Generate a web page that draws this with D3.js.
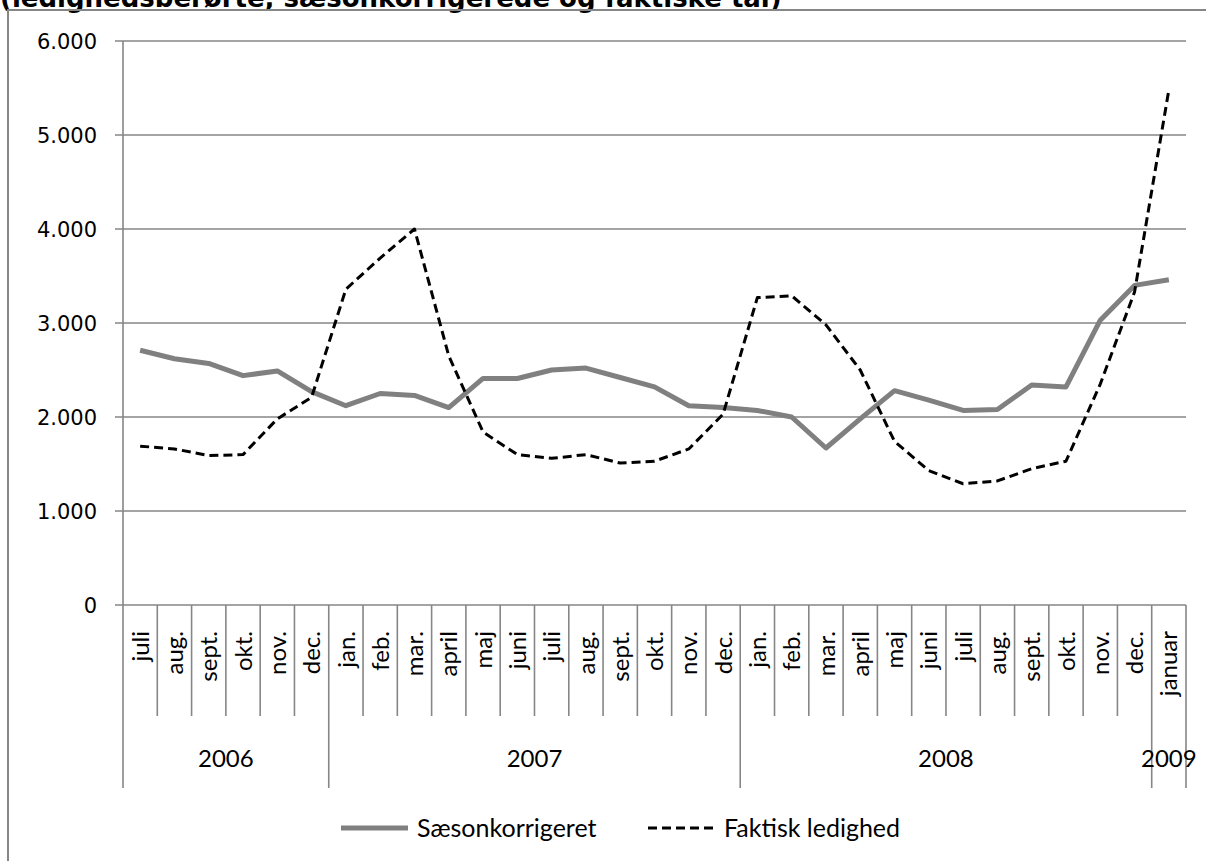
<!DOCTYPE html>
<html>
<head>
<meta charset="utf-8">
<script src="https://cdnjs.cloudflare.com/ajax/libs/d3/7.8.5/d3.min.js"></script>
<style>
  body { margin: 0; background: #fff; }
  svg { display: block; }
</style>
</head>
<body>
<div id="chart"></div>
<script>

// months july 2006 -> january 2009
var months = ['juli', 'aug.', 'sept.', 'okt.', 'nov.', 'dec.',
              'jan.', 'feb.', 'mar.', 'april', 'maj', 'juni', 'juli', 'aug.', 'sept.', 'okt.', 'nov.', 'dec.',
              'jan.', 'feb.', 'mar.', 'april', 'maj', 'juni', 'juli', 'aug.', 'sept.', 'okt.', 'nov.', 'dec.',
              'januar'];

var years = ['2006', '2007', '2008', '2009'];
var yearMonths = [6, 12, 12, 1];

var saeson = [2710, 2620, 2570, 2440, 2490, 2270,
              2120, 2250, 2230, 2100, 2410, 2410, 2500, 2520, 2420, 2320, 2120, 2100,
              2070, 2000, 1670, 1980, 2280, 2180, 2070, 2080, 2340, 2320, 3030, 3400,
              3460];

var faktisk = [1690, 1660, 1590, 1600, 1980, 2210,
               3360, 3690, 4000, 2650, 1840, 1600, 1560, 1600, 1510, 1530, 1660, 2030,
               3270, 3290, 2980, 2500, 1740, 1430, 1290, 1320, 1450, 1530, 2350, 3330,
               5480];

var yTicks = [0, 1000, 2000, 3000, 4000, 5000, 6000];

var seriesNames = ['Sæsonkorrigeret', 'Faktisk ledighed'];
var title = '(ledighedsberørte, sæsonkorrigerede og faktiske tal)';

var width = 1206, height = 861;
// note: "top" is taken by window.top, so plot edges get their own names
var plotLeft = 123, plotRight = 1186, plotTop = 41, plotBottom = 605;
var grey = '#868686';
var catFont = 'Lato, "Open Sans", sans-serif';

var svg = d3.select('#chart').append('svg')
    .attr('width', width)
    .attr('height', height);

// danish number format: 6.000
var da = d3.formatLocale({decimal: ',', thousands: '.', grouping: [3], currency: ['', ' kr']});
var fmt = da.format(',');

var x = d3.scaleBand()
    .domain(d3.range(months.length))
    .range([plotLeft, plotRight])
    .padding(0);

var y = d3.scaleLinear()
    .domain([0, 6000])
    .range([plotBottom, plotTop]);

var bw = x.bandwidth();

// title (cut by the top of the picture) and frame
svg.append('text')
    .attr('x', 0)
    .attr('y', 7)
    .attr('font-family', '"DejaVu Sans", Verdana, sans-serif')
    .attr('font-weight', 'bold')
    .attr('font-size', 26)
    .attr('fill', '#000')
    .text(title);

svg.append('path')
    .attr('d', 'M8,' + height + 'V10H' + width)
    .attr('fill', 'none')
    .attr('stroke', grey)
    .attr('stroke-width', 2);

// gridlines
svg.append('g').selectAll('line')
    .data(yTicks)
    .enter().append('line')
    .attr('x1', plotLeft - 8)
    .attr('x2', plotRight)
    .attr('y1', function(d){ return y(d); })
    .attr('y2', function(d){ return y(d); })
    .attr('stroke', grey)
    .attr('stroke-width', 1.6);

// y axis
svg.append('line')
    .attr('x1', plotLeft).attr('x2', plotLeft)
    .attr('y1', plotTop).attr('y2', plotBottom)
    .attr('stroke', grey)
    .attr('stroke-width', 1.6);

svg.append('g').selectAll('text')
    .data(yTicks)
    .enter().append('text')
    .attr('x', 97)
    .attr('y', function(d){ return y(d); })
    .attr('dy', '0.36em')
    .attr('text-anchor', 'end')
    .attr('font-family', '"DejaVu Sans", Verdana, sans-serif')
    .attr('font-size', 21)
    .attr('fill', '#000')
    .text(function(d){ return fmt(d); });

// month separators, longer ones between years
var yearStarts = [0];
yearMonths.forEach(function(n, i){ yearStarts.push(yearStarts[i] + n); });

svg.append('g').selectAll('line')
    .data(d3.range(months.length + 1))
    .enter().append('line')
    .attr('x1', function(i){ return plotLeft + i * bw; })
    .attr('x2', function(i){ return plotLeft + i * bw; })
    .attr('y1', plotBottom)
    .attr('y2', function(i){ return yearStarts.indexOf(i) >= 0 ? 788 : 716; })
    .attr('stroke', grey)
    .attr('stroke-width', 1.6);

// month labels
svg.append('g').selectAll('text')
    .data(months)
    .enter().append('text')
    .attr('transform', function(d, i){ return 'translate(' + (x(i) + bw / 2) + ',631) rotate(-90)'; })
    .attr('dy', '0.36em')
    .attr('text-anchor', 'end')
    .attr('font-family', catFont)
    .attr('font-size', 24)
    .attr('fill', '#000')
    .text(function(d){ return d; });

// year labels
svg.append('g').selectAll('text')
    .data(years)
    .enter().append('text')
    .attr('x', function(d, i){ return plotLeft + (yearStarts[i] + yearMonths[i] / 2) * bw; })
    .attr('y', 758)
    .attr('dy', '0.36em')
    .attr('text-anchor', 'middle')
    .attr('font-family', catFont)
    .attr('font-size', 24)
    .attr('fill', '#000')
    .text(function(d){ return d; });

// lines
var line = d3.line()
    .x(function(d, i){ return x(i) + bw / 2; })
    .y(function(d){ return y(d); });

svg.append('path')
    .datum(saeson)
    .attr('d', line)
    .attr('fill', 'none')
    .attr('stroke', '#808080')
    .attr('stroke-width', 5)
    .attr('stroke-linejoin', 'round');

svg.append('path')
    .datum(faktisk)
    .attr('d', line)
    .attr('fill', 'none')
    .attr('stroke', '#000')
    .attr('stroke-width', 3)
    .attr('stroke-dasharray', '9,5')
    .attr('stroke-linejoin', 'round');

// legend
var legend = [
    {x: 341, color: '#808080', w: 5, dash: null},
    {x: 648, color: '#000', w: 3, dash: '9,5'}
];

var lg = svg.append('g').selectAll('g')
    .data(legend)
    .enter().append('g');

lg.append('line')
    .attr('x1', function(d){ return d.x; })
    .attr('x2', function(d){ return d.x + 67; })
    .attr('y1', 828).attr('y2', 828)
    .attr('stroke', function(d){ return d.color; })
    .attr('stroke-width', function(d){ return d.w; })
    .attr('stroke-dasharray', function(d){ return d.dash; });

lg.append('text')
    .attr('x', function(d){ return d.x + 76; })
    .attr('y', 828)
    .attr('dy', '0.36em')
    .attr('font-family', catFont)
    .attr('font-size', 25)
    .attr('fill', '#000')
    .text(function(d, i){ return seriesNames[i]; });

</script>
</body>
</html>
